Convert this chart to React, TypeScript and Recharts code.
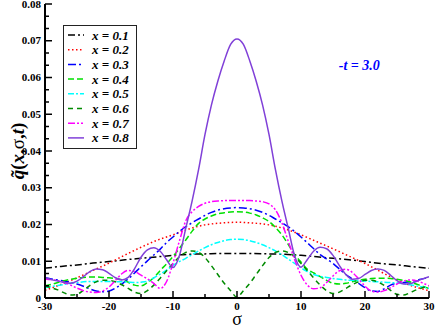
import React from "react";
import { LineChart, Line, XAxis, YAxis, Legend, ReferenceDot, Label } from "recharts";

const SERIF = '"Liberation Serif", "Times New Roman", serif';

// sigma grids
const SIGMA = [
  -30, -29, -28, -27, -26, -25, -24, -23, -22, -21, -20, -19, -18, -17, -16, -15, -14, -13, -12, -11, -10,
  -9, -8, -7, -6, -5, -4, -3, -2, -1, 0, 1, 2, 3, 4, 5, 6, 7, 8, 9, 10, 11, 12, 13, 14, 15, 16, 17, 18, 19,
  20, 21, 22, 23, 24, 25, 26, 27, 28, 29, 30,
];
const SIGMA_COARSE = [
  -30, -27.5, -25, -22.5, -20, -17.5, -15, -12.5, -10, -7.5, -5, -2.5, 0, 2.5, 5, 7.5, 10, 12.5, 15, 17.5, 20,
  22.5, 25, 27.5, 30,
];

// series values
const Q_X01 = [
  0.0081, 0.0086, 0.009, 0.0095, 0.0099, 0.0104, 0.0108, 0.0112, 0.0116, 0.0119, 0.012, 0.0121, 0.0121, 0.0121,
  0.012, 0.0119, 0.0116, 0.0112, 0.0108, 0.0104, 0.0099, 0.0094, 0.009, 0.0085, 0.0081,
];
const Q_X02 = [
  0.0021, 0.0037, 0.0055, 0.0075, 0.0095, 0.0117, 0.0138, 0.0157, 0.0172, 0.0188, 0.0199, 0.0204, 0.0206, 0.0204,
  0.0199, 0.0188, 0.0172, 0.0153, 0.0134, 0.0114, 0.0094, 0.0071, 0.0049, 0.0032, 0.002,
];
const Q_X03 = [
  0.0055, 0.0052, 0.0049, 0.0046, 0.0043, 0.0038, 0.0032, 0.0025, 0.0019, 0.0017, 0.0019, 0.0027, 0.0038, 0.0052,
  0.0068, 0.0085, 0.0101, 0.0117, 0.0133, 0.0151, 0.0166, 0.0181, 0.0194, 0.0205, 0.0215, 0.0225, 0.0233, 0.0239,
  0.0243, 0.0245, 0.0246, 0.0245, 0.0243, 0.0239, 0.0233, 0.0225, 0.0215, 0.0205, 0.0194, 0.0181, 0.0166, 0.015,
  0.0134, 0.0118, 0.0106, 0.0094, 0.0079, 0.0064, 0.0052, 0.004, 0.0028, 0.0019, 0.0018, 0.0025, 0.0035, 0.004,
  0.0042, 0.0044, 0.0048, 0.0052, 0.0056,
];
const Q_X04 = [
  0.0033, 0.0037, 0.0042, 0.0047, 0.0051, 0.0054, 0.0056, 0.0057, 0.0057, 0.0056, 0.0055, 0.0053, 0.005, 0.0043,
  0.0035, 0.0033, 0.0042, 0.0055, 0.0075, 0.0093, 0.0113, 0.0135, 0.0158, 0.0182, 0.0203, 0.0215, 0.0223, 0.0229,
  0.0232, 0.0234, 0.0235, 0.0234, 0.0231, 0.0226, 0.0218, 0.0208, 0.0192, 0.0172, 0.0146, 0.0118, 0.0098, 0.0078,
  0.0068, 0.0058, 0.0048, 0.004, 0.0038, 0.004, 0.0044, 0.0048, 0.0051, 0.0053, 0.0054, 0.0054, 0.0053, 0.0051,
  0.0048, 0.0044, 0.0038, 0.0032, 0.0026,
];
const Q_X05 = [
  0.0028, 0.0031, 0.0034, 0.0037, 0.004, 0.0042, 0.0044, 0.0045, 0.0045, 0.0045, 0.0045, 0.0044, 0.0044, 0.0043,
  0.0042, 0.0043, 0.0046, 0.0055, 0.0065, 0.0076, 0.0089, 0.0099, 0.0108, 0.0118, 0.0128, 0.0137, 0.0145, 0.0151,
  0.0156, 0.0159, 0.016, 0.0159, 0.0156, 0.0151, 0.0145, 0.0137, 0.0128, 0.0118, 0.0106, 0.0094, 0.0082, 0.0072,
  0.0064, 0.0059, 0.0056, 0.0053, 0.0051, 0.0049, 0.0048, 0.0047, 0.0046, 0.0045, 0.0044, 0.0043, 0.0042, 0.0041,
  0.0039, 0.0036, 0.0033, 0.003, 0.0026,
];
const Q_X06 = [
  0.0033, 0.0028, 0.0022, 0.0014, 0.0008, 0.001, 0.0021, 0.0034, 0.0044, 0.0048, 0.0048, 0.0044, 0.0036, 0.0026,
  0.0016, 0.0012, 0.002, 0.0035, 0.0054, 0.0074, 0.0094, 0.0112, 0.0124, 0.0128, 0.0124, 0.011, 0.0088, 0.0064,
  0.004, 0.002, 0.0002, 0.002, 0.004, 0.0064, 0.0088, 0.011, 0.0124, 0.0128, 0.0124, 0.0112, 0.0094, 0.0074,
  0.0054, 0.0035, 0.002, 0.0012, 0.0016, 0.0026, 0.0036, 0.0044, 0.0048, 0.0048, 0.0044, 0.0034, 0.0021, 0.001,
  0.0008, 0.0014, 0.0022, 0.0028, 0.0033,
];
const Q_X07 = [
  0.0052, 0.005, 0.0047, 0.0042, 0.0035, 0.0027, 0.002, 0.0016, 0.0015, 0.0019, 0.003, 0.0048, 0.0066, 0.0075,
  0.0072, 0.0062, 0.0052, 0.004, 0.0026, 0.0045, 0.0095, 0.0155, 0.021, 0.0235, 0.0249, 0.0258, 0.0262, 0.0264,
  0.0265, 0.0265, 0.0265, 0.0265, 0.0265, 0.0264, 0.0262, 0.0256, 0.024, 0.0205, 0.0155, 0.0105, 0.0062, 0.0035,
  0.0025, 0.0028, 0.0042, 0.006, 0.0074, 0.0078, 0.007, 0.0052, 0.0032, 0.0019, 0.0016, 0.002, 0.0028, 0.0038,
  0.0046, 0.0049, 0.0047, 0.0041, 0.0033,
];
const Q_X08 = [
  0.0055, 0.005, 0.0046, 0.0042, 0.004, 0.0046, 0.0058, 0.0072, 0.0079, 0.0077, 0.0067, 0.0055, 0.0049, 0.0056,
  0.008, 0.0111, 0.0131, 0.0137, 0.0127, 0.0104, 0.0083, 0.0115, 0.019, 0.0265, 0.035, 0.0445, 0.0525, 0.059,
  0.0645, 0.069, 0.0705, 0.069, 0.0645, 0.059, 0.0525, 0.0445, 0.035, 0.0265, 0.019, 0.0115, 0.0084, 0.0105,
  0.0128, 0.0138, 0.0134, 0.0116, 0.0088, 0.0064, 0.0051, 0.0053, 0.0064, 0.0075, 0.0079, 0.0075, 0.0062, 0.0047,
  0.0038, 0.0039, 0.0045, 0.0052, 0.0058,
];

const X_TICKS = [-30, -25, -20, -15, -10, -5, 0, 5, 10, 15, 20, 25, 30];
const Y_MAJOR = [0, 0.01, 0.02, 0.03, 0.04, 0.05, 0.06, 0.07, 0.08];
const Y_TICKS = Y_MAJOR.flatMap((v, i) => (i === 0 ? [v] : [v - 0.02 / 3, v - 0.01 / 3, v]));

const toRows = (xs: number[], ys: number[]) => xs.map((s, i) => ({ s, v: ys[i] }));

const SERIES = [
  { name: "x = 0.1", rows: toRows(SIGMA_COARSE, Q_X01), color: "#000000", dash: "7 3 2 3" },
  { name: "x = 0.2", rows: toRows(SIGMA_COARSE, Q_X02), color: "#ff0000", dash: "1.5 2.5" },
  { name: "x = 0.3", rows: toRows(SIGMA, Q_X03), color: "#0000ff", dash: "8 3 2 3" },
  { name: "x = 0.4", rows: toRows(SIGMA, Q_X04), color: "#00e000", dash: "6 3" },
  { name: "x = 0.5", rows: toRows(SIGMA, Q_X05), color: "#00ffff", dash: "6 2 2 2" },
  { name: "x = 0.6", rows: toRows(SIGMA, Q_X06), color: "#008a00", dash: "5 4" },
  { name: "x = 0.7", rows: toRows(SIGMA, Q_X07), color: "#ff00ff", dash: "7 2 2 2 2 2" },
  { name: "x = 0.8", rows: toRows(SIGMA, Q_X08), color: "#8040d8", dash: undefined },
];

const isMajorX = (v: number) => Math.abs(v % 10) < 1e-9;
const isMajorY = (v: number) => Y_MAJOR.some((m) => Math.abs(m - v) < 1e-9);

const BottomTick = (p: any) => {
  const v = p.payload.value;
  const major = isMajorX(v);
  return (
    <g>
      <line x1={p.x} x2={p.x} y1={p.y} y2={p.y - (major ? 7 : 4)} stroke="#000" strokeWidth={1.5} />
      {major && (
        <text x={p.x} y={p.y + 12} textAnchor="middle" fontFamily={SERIF} fontWeight="bold" fontSize={11} fill="#000">
          {v}
        </text>
      )}
    </g>
  );
};

const TopTick = (p: any) => {
  const major = isMajorX(p.payload.value);
  return <line x1={p.x} x2={p.x} y1={p.y} y2={p.y + (major ? 7 : 4)} stroke="#000" strokeWidth={1.5} />;
};

const LeftTick = (p: any) => {
  const v = p.payload.value;
  const major = isMajorY(v);
  return (
    <g>
      <line x1={p.x} x2={p.x + (major ? 7 : 4)} y1={p.y} y2={p.y} stroke="#000" strokeWidth={1.5} />
      {major && (
        <text x={p.x - 4} y={p.y + 3.5} textAnchor="end" fontFamily={SERIF} fontWeight="bold" fontSize={11} fill="#000">
          {v === 0 ? "0" : v.toFixed(2)}
        </text>
      )}
    </g>
  );
};

const RightTick = (p: any) => {
  const major = isMajorY(p.payload.value);
  return <line x1={p.x} x2={p.x - (major ? 7 : 4)} y1={p.y} y2={p.y} stroke="#000" strokeWidth={1.5} />;
};

const YTitle = () => (
  <text
    x={17}
    y={151}
    transform="rotate(-90 17 151)"
    textAnchor="middle"
    dominantBaseline="central"
    fontFamily={SERIF}
    fontWeight="bold"
    fontSize={19}
    fill="#000"
  >
    <tspan fontStyle="italic">{"q\u0303"}</tspan>
    <tspan>(</tspan>
    <tspan fontStyle="italic">x</tspan>
    <tspan>,</tspan>
    <tspan fontWeight="normal">σ</tspan>
    <tspan>,</tspan>
    <tspan fontStyle="italic">t</tspan>
    <tspan>)</tspan>
  </text>
);

const LegendBox = () => (
  <svg width={74} height={124} style={{ display: "block" }}>
    <rect x={0.5} y={0.5} width={73} height={123} fill="#fff" stroke="#222" strokeWidth={1} />
    {SERIES.map((s, i) => {
      const y = 10 + i * 14.7;
      return (
        <g key={s.name}>
          <line x1={5} x2={21} y1={y} y2={y} stroke={s.color} strokeWidth={1.5} strokeDasharray={s.dash} />
          <text
            x={29}
            y={y + 4.5}
            fontFamily={SERIF}
            fontWeight="bold"
            fontStyle="italic"
            fontSize={13}
            fill="#000"
          >
            {s.name}
          </text>
        </g>
      );
    })}
  </svg>
);

export default function App() {
  return (
    <div style={{ position: "absolute", left: 0, top: 0, background: "#fff" }}>
      <LineChart width={436} height={327} margin={{ top: 4, right: 7, bottom: 0, left: 8 }}>
        <XAxis
          type="number"
          dataKey="s"
          domain={[-30, 30]}
          ticks={X_TICKS}
          interval={0}
          tickSize={0}
          tickMargin={0}
          tick={BottomTick}
          height={29}
          axisLine={{ stroke: "#000", strokeWidth: 2 }}
          allowDataOverflow
        >
          <Label
            content={() => (
              <text x={237} y={325} textAnchor="middle" fontFamily={SERIF} fontSize={18} fill="#000">
                σ
              </text>
            )}
          />
        </XAxis>
        <XAxis
          xAxisId="top"
          orientation="top"
          type="number"
          dataKey="s"
          domain={[-30, 30]}
          ticks={X_TICKS}
          interval={0}
          tickSize={0}
          tickMargin={0}
          tick={TopTick}
          height={0}
          axisLine={{ stroke: "#000", strokeWidth: 2 }}
        />
        <YAxis
          type="number"
          domain={[0, 0.08]}
          ticks={Y_TICKS}
          interval={0}
          tickSize={0}
          tickMargin={0}
          tick={LeftTick}
          width={37}
          axisLine={{ stroke: "#000", strokeWidth: 2 }}
          allowDataOverflow
        >
          <Label content={() => <YTitle />} />
        </YAxis>
        <YAxis
          yAxisId="right"
          orientation="right"
          type="number"
          domain={[0, 0.08]}
          ticks={Y_TICKS}
          interval={0}
          tickSize={0}
          tickMargin={0}
          tick={RightTick}
          width={0}
          axisLine={{ stroke: "#000", strokeWidth: 2 }}
        />
        {SERIES.map((s) => (
          <Line
            key={s.name}
            data={s.rows}
            dataKey="v"
            name={s.name}
            type="monotone"
            stroke={s.color}
            strokeWidth={1.5}
            strokeDasharray={s.dash}
            dot={false}
            isAnimationActive={false}
          />
        ))}
        <ReferenceDot
          x={19.1}
          y={0.0635}
          r={1}
          fill="none"
          stroke="none"
          label={{
            content: (p: any) => (
              <text
                x={p.viewBox.x + p.viewBox.width / 2}
                y={p.viewBox.y + p.viewBox.height / 2 + 5}
                textAnchor="middle"
                fontFamily={SERIF}
                fontWeight="bold"
                fontStyle="italic"
                fontSize={14}
                fill="#0000ff"
              >
                -t = 3.0
              </text>
            ),
          }}
        />
        <Legend
          layout="vertical"
          align="center"
          verticalAlign="middle"
          content={() => <LegendBox />}
          wrapperStyle={{ left: 63, top: 25, width: 74, height: 124 }}
        />
      </LineChart>
    </div>
  );
}
